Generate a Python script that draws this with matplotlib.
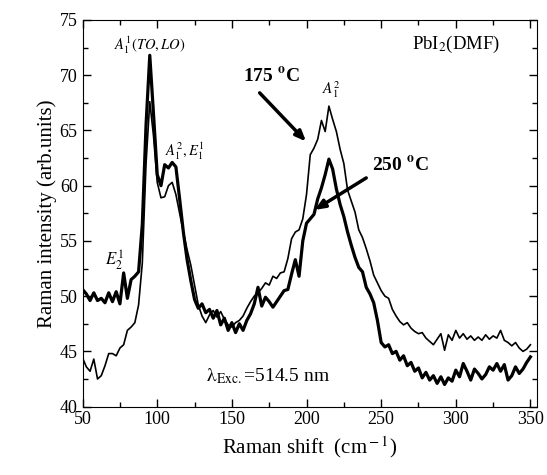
import numpy as np
import matplotlib
matplotlib.use('Agg')
import matplotlib.pyplot as plt
from matplotlib.ticker import MultipleLocator

plt.rcParams['font.family'] = ['Liberation Serif', 'DejaVu Serif']
plt.rcParams['mathtext.fontset'] = 'stix'

# Raman shift grid (cm^-1), 2.5 step
shift = np.arange(50, 350.1, 2.5)

# 175 C sample (thin line)
i_175 = [44.4, 43.6, 43.2, 44.3, 42.5, 42.8, 43.7, 44.8, 44.8, 44.6,
         45.3, 45.6, 46.9, 47.2, 47.6, 49.2, 53.0, 62.0, 67.6, 64.5,
         60.3, 58.9, 59.0, 60.0, 60.3, 59.2, 57.5, 55.8, 54.2, 52.8,
         51.0, 49.2, 48.2, 47.6, 48.3, 48.7, 48.1, 48.6, 47.9, 47.4,
         47.2, 47.6, 47.8, 48.2, 48.9, 49.5, 50.0, 50.3, 50.7, 51.2,
         51.0, 51.8, 51.6, 52.1, 52.2, 53.4, 55.2, 55.8, 56.0, 57.0,
         59.2, 62.8, 63.4, 64.2, 65.9, 64.9, 67.2, 66.0, 64.9, 63.3,
         62.0, 59.6, 58.6, 57.6, 56.0, 55.3, 54.3, 53.2, 51.9, 51.2,
         50.5, 50.0, 49.8, 48.8, 48.2, 47.7, 47.4, 47.6, 47.1, 46.8,
         46.6, 46.7, 46.2, 45.9, 45.6, 46.1, 46.6, 45.1, 46.5, 46.0,
         46.9, 46.2, 46.6, 46.1, 46.4, 46.0, 46.3, 46.0, 46.5, 46.1,
         46.4, 46.2, 46.9, 46.0, 45.8, 45.5, 45.8, 45.3, 45.0, 45.2,
         45.6]

# 250 C sample (thick line)
i_250 = [50.6, 50.2, 49.6, 50.3, 49.6, 49.8, 49.4, 50.3, 49.5, 50.4,
         49.3, 52.1, 49.8, 51.5, 51.8, 52.2, 56.5, 65.5, 71.8, 66.5,
         61.0, 60.0, 61.9, 61.6, 62.1, 61.7, 58.8, 55.8, 53.3, 51.4,
         49.7, 48.9, 49.3, 48.5, 48.8, 48.0, 48.7, 47.4, 48.0, 46.9,
         47.6, 46.7, 47.5, 46.9, 47.8, 48.4, 49.3, 50.8, 49.1, 49.9,
         49.5, 49.0, 49.5, 50.0, 50.5, 50.6, 52.0, 53.3, 51.8, 55.0,
         56.6, 57.0, 57.4, 58.8, 59.8, 61.0, 62.4, 61.5, 59.7, 58.3,
         57.2, 55.8, 54.6, 53.5, 52.6, 52.2, 50.8, 50.2, 49.4, 47.8,
         45.8, 45.4, 45.6, 44.8, 45.0, 44.2, 44.6, 43.7, 44.0, 43.2,
         43.5, 42.6, 43.1, 42.4, 42.8, 42.1, 42.7, 42.0, 42.6, 42.3,
         43.3, 42.7, 43.9, 43.2, 42.4, 43.4, 43.0, 42.5, 42.9, 43.6,
         43.3, 43.9, 43.2, 43.8, 42.4, 42.8, 43.6, 43.0, 43.4, 44.0,
         44.5]

fig = plt.figure(figsize=(5.47, 4.75), dpi=100)
ax = fig.add_axes([0.151, 0.144, 0.831, 0.814])

ax.plot(shift, i_175, color='black', lw=1.2)
ax.plot(shift, i_250, color='black', lw=2.3)

ax.set_xlim(50, 354.5)
ax.set_ylim(40, 75)
ax.xaxis.set_major_locator(MultipleLocator(50))
ax.xaxis.set_minor_locator(MultipleLocator(25))
ax.yaxis.set_major_locator(MultipleLocator(5))
ax.yaxis.set_minor_locator(MultipleLocator(2.5))
ax.tick_params(which='both', direction='in', top=True, right=True,
               labelsize=13, width=1)
ax.tick_params(which='major', length=6)
ax.tick_params(which='minor', length=3.5)
ax.set_xlabel(r'Raman shift  (cm$^{\rm -1}$)', fontsize=15, labelpad=4)
ax.set_ylabel('Raman intensity (arb.units)', fontsize=15, labelpad=2)

# labels
ax.text(300, 72.8, r'PbI$_2$(DMF)', fontsize=13.5, ha='center', va='center')
ax.text(95, 72.7, r'$A_1^1(TO,LO)$', fontsize=10.5, ha='center', va='center')
ax.text(118.5, 63.1, r'$A_1^2,E_1^1$', fontsize=10.5, ha='center', va='center')
ax.text(71.5, 53.3, r'$E_2^1$', fontsize=12, ha='center', va='center')
ax.text(216.5, 68.7, r'$A_1^2$', fontsize=11, ha='center', va='center')
ax.text(174, 42.8, r'$\mathrm{\lambda}_{\rm Exc.}$=514.5 nm', fontsize=14,
        ha='center', va='center')

arrow = dict(arrowstyle='-|>,head_length=0.6,head_width=0.25',
             lw=2.5, color='black', shrinkA=0, shrinkB=0)
ax.annotate('', xy=(199.7, 64.0), xytext=(168.6, 68.4), arrowprops=arrow)
ax.text(176.5, 69.9, r'175 $^\mathbf{o}$C', fontsize=14, fontweight='bold',
        ha='center', va='center')
ax.annotate('', xy=(205.4, 57.8), xytext=(240.0, 60.7), arrowprops=arrow)
ax.text(263, 61.9, r'250 $^\mathbf{o}$C', fontsize=14, fontweight='bold',
        ha='center', va='center')

fig.savefig('out.png', dpi=100)
